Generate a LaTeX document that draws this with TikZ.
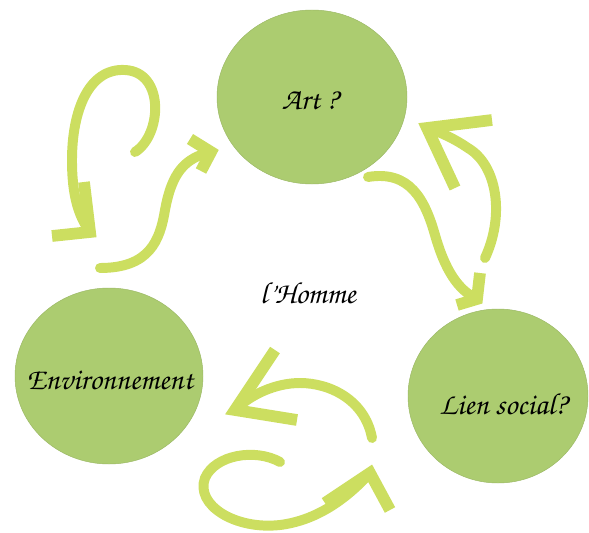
\documentclass[tikz,border=0pt]{standalone}
\usepackage[T1]{fontenc}
\usetikzlibrary{shapes.geometric}

\definecolor{discgreen}{RGB}{172,204,112}
\definecolor{brushgreen}{RGB}{204,222,96}

\tikzset{
  disc/.style={ellipse, fill=discgreen, draw=discgreen!90!black, line width=0.4pt, inner sep=0pt},
  brush/.style={draw=brushgreen, line width=8.5pt, line cap=round},
  barb/.style={draw=brushgreen, line width=10pt, line cap=butt, line join=miter},
  hand/.style={font=\fontencoding{T1}\fontfamily{pzc}\fontseries{mb}\fontshape{it}\fontsize{26}{28}\selectfont}
}

\begin{document}
\begin{tikzpicture}[x=0.03cm, y=-0.03cm]
  \useasboundingbox (0,0) rectangle (589,533);

  % the three discs
  \node[disc, minimum width=5.7cm, minimum height=5.22cm] (art) at (312,97) {};
  \node[disc, minimum width=5.64cm, minimum height=5.28cm] (env) at (109,376) {};
  \node[disc, minimum width=5.4cm, minimum height=5.22cm] (lien) at (498,396) {};
  \node[hand] (arttext) at (310,100) {Art ?};
  \node[hand] (envtext) at (110,380) {Environnement};
  \node[hand] (lientext) at (503,404) {Lien social?};

  % centre word
  \node[hand] (homme) at (308,293) {l'Homme};

  % top left: loop down to the left, then up towards Art
  \coordinate (loopTail) at (135,152);
  \coordinate (loopTip) at (90,232);
  \draw[brush] (loopTail) .. controls (162,135) and (165,72) .. (125,70)
    .. controls (88,68) and (72,112) .. (72,160)
    .. controls (72,195) and (78,215) .. (loopTip);
  \draw[barb] (84,182) -- (loopTip) -- (52,236);

  \coordinate (upTail) at (100,268);
  \coordinate (upTip) at (211,152);
  \draw[brush] (upTail) .. controls (150,268) and (160,240) .. (165,210)
    .. controls (172,172) and (185,158) .. (upTip);
  \draw[barb] (190,139) -- (upTip) -- (201,171);

  % right: Art down to Lien social and back up
  \coordinate (downTail) at (368,177);
  \coordinate (downTip) at (477,299);
  \draw[brush] (downTail) .. controls (410,170) and (425,200) .. (435,235)
    .. controls (445,270) and (458,290) .. (downTip);
  \draw[barb] (480,273) -- (downTip) -- (457,305);

  \coordinate (backTail) at (485,258);
  \coordinate (backTip) at (427,128);
  \draw[brush] (backTail) .. controls (505,215) and (497,165) .. (468,148)
    .. controls (455,139) and (440,132) .. (backTip);
  \draw[barb] (492,120) -- (backTip) -- (455,188);

  % bottom: towards Environnement, and the lower loop
  \coordinate (leftTail) at (372,438);
  \coordinate (leftTip) at (235,410);
  \draw[brush] (leftTail) .. controls (365,400) and (330,383) .. (300,383)
    .. controls (275,383) and (250,395) .. (leftTip);
  \draw[barb] (275,350) -- (leftTip) -- (297,420);

  \coordinate (hookTail) at (280,462);
  \coordinate (hookTip) at (370,473);
  \draw[brush] (hookTail) .. controls (255,448) and (215,455) .. (205,478)
    .. controls (195,505) and (235,530) .. (280,525)
    .. controls (320,520) and (350,495) .. (hookTip);
  \draw[barb] (325,503) -- (hookTip) -- (390,510);
\end{tikzpicture}
\end{document}
